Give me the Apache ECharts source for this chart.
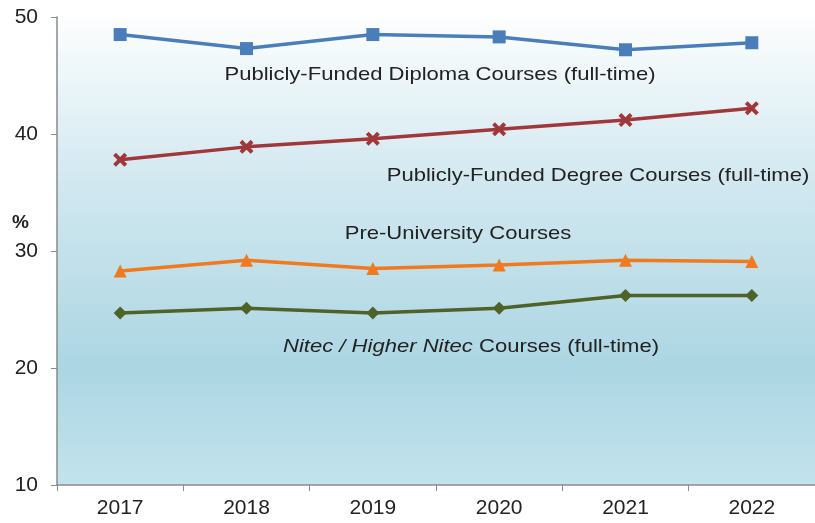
<!DOCTYPE html>
<html><head><meta charset="utf-8">
<script src="https://cdn.jsdelivr.net/npm/echarts@6/dist/echarts.min.js"></script>
<style>html,body{margin:0;padding:0;background:#fff}#c{width:815px;height:523px}</style>
</head><body><div id="c"></div>
<script>
const years = ['2017','2018','2019','2020','2021','2022'];
const diploma = [48.5, 47.3, 48.5, 48.3, 47.2, 47.8];
const degree = [37.8, 38.9, 39.6, 40.4, 41.2, 42.2];
const preU = [28.3, 29.2, 28.5, 28.8, 29.2, 29.1];
const nitec = [24.7, 25.1, 24.7, 25.1, 26.2, 26.2];
const yTicks = [10, 20, 30, 40, 50];

const font = 'Liberation Sans, Arial, sans-serif';
const chart = echarts.init(document.getElementById('c'));
function ser(name, data, color, symbol, size) {
  return {name, type:'line', data, symbol, symbolSize:size, color,
    lineStyle:{color, width:3.5}, itemStyle:{color}, z:3};
}
function lbl(text, x, y, extra) {
  return Object.assign({type:'text', x, y, scaleX:1.16, scaleY:1,
    style:{text, font:'19px '+font, fill:'#222', align:'center', verticalAlign:'middle'}}, extra||{});
}
const nitecLbl = lbl('{i|Nitec / Higher Nitec} Courses (full-time)', 471, 347);
nitecLbl.style.rich = {i:{fontStyle:'italic', fontSize:19, fontFamily:font, fill:'#222'}};
chart.setOption({
  animation:false,
  grid:{left:57, right:-10, top:17, bottom:38, show:true, borderWidth:0,
    backgroundColor:new echarts.graphic.LinearGradient(0,0,0,1,[
      {offset:0,color:'#fdfefe'},{offset:0.35,color:'#d2e8f0'},
      {offset:0.75,color:'#acd6e3'},{offset:1,color:'#c3e3ec'}])},
  xAxis:{type:'category', data:years, boundaryGap:true,
    axisLine:{lineStyle:{color:'#8a8a8a', width:1.5}},
    axisTick:{show:true, length:6, inside:false, lineStyle:{color:'#8a8a8a'}},
    axisLabel:{color:'#222', fontSize:21, fontFamily:font, margin:13}},
  yAxis:{type:'value', min:yTicks[0], max:yTicks[yTicks.length-1], interval:10,
    splitLine:{show:false},
    axisLine:{show:true, lineStyle:{color:'#8a8a8a', width:1.5}},
    axisTick:{show:true, length:6, lineStyle:{color:'#8a8a8a'}},
    axisLabel:{color:'#222', fontSize:21, fontFamily:font, margin:19}},
  series:[
    ser('Publicly-Funded Diploma Courses (full-time)', diploma, '#4a7ebb', 'rect', 13),
    ser('Publicly-Funded Degree Courses (full-time)', degree, '#a0373a', 'path://M2,0 L5,3 L8,0 L10,2 L7,5 L10,8 L8,10 L5,7 L2,10 L0,8 L3,5 L0,2 Z', 14),
    ser('Pre-University Courses', preU, '#f07a1f', 'triangle', 13),
    ser('Nitec / Higher Nitec Courses (full-time)', nitec, '#4f6228', 'diamond', 13)
  ],
  graphic:[
    {type:'text', left:12, top:213, style:{text:'%', font:'bold 19px '+font, fill:'#222'}},
    lbl('Publicly-Funded Diploma Courses (full-time)', 440, 75),
    lbl('Publicly-Funded Degree Courses (full-time)', 598, 176),
    lbl('Pre-University Courses', 458, 234),
    nitecLbl
  ]
});
</script></body></html>
